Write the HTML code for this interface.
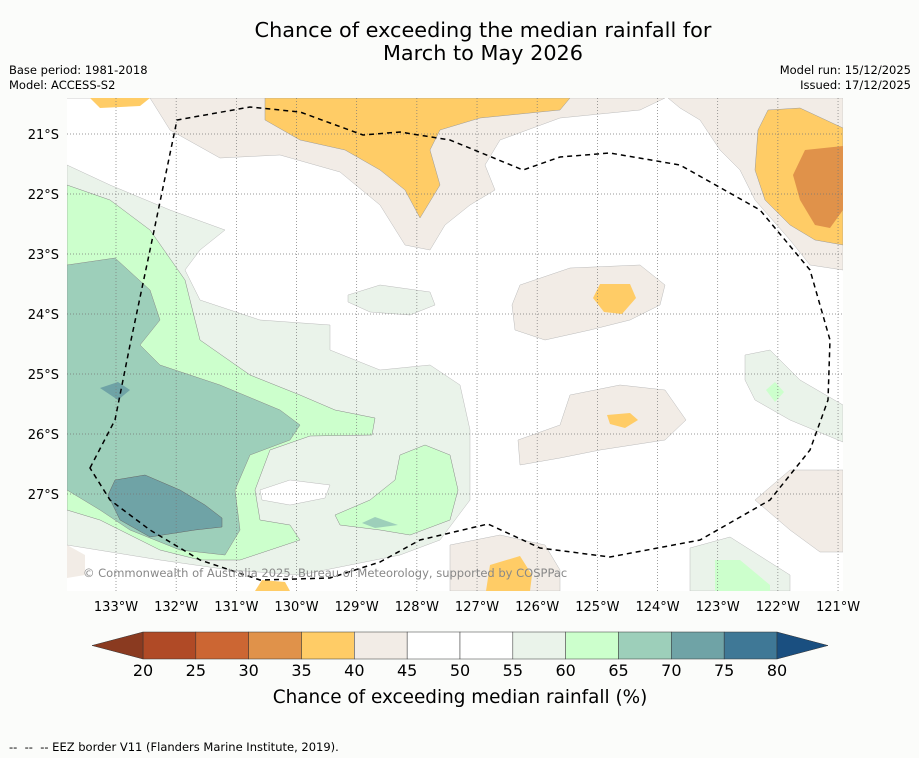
<!DOCTYPE html>
<html><head><meta charset="utf-8"><style>
body{margin:0;background:#fbfcfa;font-family:"DejaVu Sans","Liberation Sans",sans-serif;}
#w{position:relative;width:919px;height:758px;overflow:hidden}
.t{position:absolute;font-size:11.5px;color:#000}
</style></head><body>
<div id="w">
<div class="t" style="left:0;width:966px;top:19px;text-align:center;font-size:20.8px;line-height:23px">Chance of exceeding the median rainfall for<br>March to May 2026</div>
<div class="t" style="left:9px;top:63px">Base period: 1981-2018</div>
<div class="t" style="left:9px;top:78px">Model: ACCESS-S2</div>
<div class="t" style="right:8px;top:63px;text-align:right">Model run: 15/12/2025</div>
<div class="t" style="right:8px;top:78px;text-align:right">Issued: 17/12/2025</div>
<div class="t" style="left:9px;top:740px">-- &nbsp;-- &nbsp;-- EEZ border V11 (Flanders Marine Institute, 2019).</div>
<svg id="s" width="919" height="758" style="position:absolute;left:0;top:0">
<defs><clipPath id="c"><rect x="67" y="98" width="776" height="493"/></clipPath></defs>
<g clip-path="url(#c)">
<rect x="67" y="98" width="776" height="493" fill="#fff"/>
<path fill="#f2ece6" stroke="#bbb" stroke-width="0.5" d="M67,98 L665,98 L640,110 L560,118 L500,140 L485,165 L495,190 L470,205 L445,225 L430,250 L405,245 L380,205 L340,172 L280,155 L220,158 L170,130 L150,98 Z"/>
<path fill="#ffcc66" stroke="#999" stroke-width="0.5" d="M265,98 L570,98 L560,110 L480,118 L440,130 L430,150 L440,185 L420,218 L405,190 L380,170 L345,150 L300,140 L265,120 Z"/>
<path fill="#ffcc66" d="M90,98 L150,98 L140,106 L100,108 Z"/>
<path fill="#f2ece6" stroke="#bbb" stroke-width="0.5" d="M668,98 L843,98 L843,270 L810,265 L790,240 L755,200 L740,170 L720,150 L700,120 L680,108 Z"/>
<path fill="#ffcc66" stroke="#999" stroke-width="0.5" d="M768,110 L800,108 L843,128 L843,245 L815,240 L790,225 L765,200 L755,170 L758,130 Z"/>
<path fill="#e0924a" d="M805,150 L843,146 L843,210 L830,228 L815,225 L800,200 L793,175 Z"/>
<path fill="#f2ece6" stroke="#bbb" stroke-width="0.5" d="M520,285 L570,268 L640,265 L665,285 L660,305 L630,320 L590,330 L545,340 L515,330 L512,305 Z"/>
<path fill="#ffcc66" d="M600,284 L630,284 L636,298 L622,314 L604,312 L593,298 Z"/>
<path fill="#f2ece6" stroke="#bbb" stroke-width="0.5" d="M570,395 L620,385 L665,390 L686,420 L665,440 L600,450 L560,458 L520,465 L518,440 L560,425 Z"/>
<path fill="#ffcc66" d="M607,415 L630,413 L638,420 L625,428 L610,424 Z"/>
<path fill="#f2ece6" stroke="#bbb" stroke-width="0.5" d="M755,500 L790,470 L843,470 L843,552 L820,552 L790,530 Z"/>
<path fill="#f2ece6" stroke="#bbb" stroke-width="0.5" d="M450,545 L500,535 L545,545 L560,570 L560,591 L450,591 Z"/>
<path fill="#ffcc66" d="M490,565 L520,556 L532,575 L530,591 L486,591 Z"/>
<path fill="#ffcc66" d="M255,591 L262,580 L285,582 L290,591 Z"/>
<path fill="#f2ece6" d="M67,545 L85,555 L85,575 L67,578 Z"/>
<path fill="#eaf3ea" stroke="#bbb" stroke-width="0.5" d="M690,548 L730,537 L790,575 L790,591 L690,591 Z"/>
<path fill="#ccffcc" d="M715,560 L740,560 L770,585 L770,591 L715,591 Z"/>
<path fill="#eaf3ea" stroke="#bbb" stroke-width="0.5" d="M745,355 L770,350 L800,380 L843,405 L843,442 L790,420 L755,400 L745,380 Z"/>
<path fill="#ccffcc" d="M766,390 L775,382 L784,392 L775,402 Z"/>
<path fill="#eaf3ea" stroke="#bbb" stroke-width="0.5" d="M67,165 L110,185 L170,210 L225,230 L200,250 L185,270 L200,300 L260,320 L330,325 L330,350 L380,370 L430,365 L460,385 L470,430 L470,500 L440,540 L400,555 L300,575 L230,570 L160,560 L67,545 Z"/>
<path fill="#ccffcc" stroke="#888" stroke-width="0.5" d="M400,455 L425,445 L450,455 L458,490 L450,520 L410,535 L380,530 L340,525 L335,515 L370,500 L395,480 Z"/>
<path fill="#9dcfba" d="M362,523 L375,517 L398,525 L375,528 Z"/>
<path fill="#ccffcc" stroke="#888" stroke-width="0.5" d="M67,185 L110,200 L150,230 L185,280 L200,340 L250,375 L300,395 L335,410 L375,418 L372,435 L310,436 L270,450 L255,490 L260,520 L290,525 L300,540 L240,560 L200,560 L160,550 L100,520 L67,510 Z"/>
<path fill="#9dcfba" stroke="#888" stroke-width="0.5" d="M67,265 L115,258 L150,290 L160,320 L140,345 L160,365 L220,385 L280,410 L300,425 L290,440 L250,455 L235,490 L240,530 L225,555 L180,550 L130,530 L100,510 L67,490 Z"/>
<path fill="#6fa3a6" stroke="#666" stroke-width="0.5" d="M115,480 L145,475 L180,490 L205,505 L222,518 L222,527 L195,530 L150,537 L120,520 L108,495 Z"/>
<path fill="#6fa3a6" d="M100,388 L118,382 L130,390 L118,400 Z"/>
<path fill="#fff" stroke="#bbb" stroke-width="0.5" d="M260,490 L290,480 L330,485 L325,498 L290,505 L262,500 Z"/>
<path fill="#eaf3ea" stroke="#bbb" stroke-width="0.5" d="M348,295 L380,285 L430,292 L435,305 L410,315 L370,312 L348,302 Z"/>
</g>
<g id="grid"></g>
<path fill="none" stroke="#000" stroke-width="1.5" stroke-dasharray="5,4" d="M90,468 L115,420 L130,345 L150,250 L177,120 L250,107 L300,112 L363,135 L400,132 L450,140 L523,170 L560,157 L610,153 L680,165 L760,210 L810,270 L830,340 L828,400 L810,450 L770,500 L700,540 L610,557 L540,548 L488,524 L420,540 L380,562 L330,578 L260,580 L200,560 L150,530 L110,500 Z"/>
<text x="83" y="577" font-size="11.5" fill="#888" font-family="DejaVu Sans, sans-serif">© Commonwealth of Australia 2025, Bureau of Meteorology, supported by COSPPac</text>
<g id="axes"></g>
<g id="cbar"></g>
<text x="460" y="703" text-anchor="middle" font-size="18.4" font-family="DejaVu Sans, sans-serif">Chance of exceeding median rainfall (%)</text>
</svg>
</div>
<script>
const lonTicks=[133,132,131,130,129,128,127,126,125,124,123,122,121];
const latTicks=[21,22,23,24,25,26,27];
const cbTicks=[20,25,30,35,40,45,50,55,60,65,70,75,80];
const cbColors=["#b04a26","#cc6633","#e0924a","#ffcc66","#f2ece6","#ffffff","#ffffff","#eaf3ea","#ccffcc","#9dcfba","#6fa3a6","#3f7896"];
const NS="http://www.w3.org/2000/svg";
const FF='DejaVu Sans, sans-serif';
const xLon=l=>116+(133-l)*60.17;
const yLat=l=>134+(l-21)*60;
const xCb=v=>143+(v-20)*(634/60);
function mk(t,a,p){const e=document.createElementNS(NS,t);for(const k in a)e.setAttribute(k,a[k]);p.appendChild(e);return e;}
const g=document.getElementById('grid'),ax=document.getElementById('axes'),cb=document.getElementById('cbar');
lonTicks.forEach(l=>{const x=xLon(l);
 const ln=mk('line',{x1:x,x2:x,y1:98,y2:591,stroke:'#777','stroke-width':0.7,'stroke-dasharray':'1,2'},g);
 
 
 const t=mk('text',{x:x,y:611,'text-anchor':'middle','font-size':13,'font-family':FF},ax);t.textContent=l+'°W';
 
 });
latTicks.forEach(l=>{const y=yLat(l);
 const ln=mk('line',{x1:67,x2:843,y1:y,y2:y,stroke:'#777','stroke-width':0.7,'stroke-dasharray':'1,2'},g);
 
 
 const t=mk('text',{x:59,y:y+5,'text-anchor':'end','font-size':13,'font-family':FF},ax);t.textContent=l+'°S';
 
 });
cbColors.forEach((c,i)=>{const x0=xCb(cbTicks[i]),x1=xCb(cbTicks[i+1]);
 const r=mk('rect',{x:x0,y:632,width:x1-x0,height:27,fill:c,stroke:'#333','stroke-width':0.5},cb);
 
 });
const lt=mk('polygon',{points:`92,645.5 143,632 143,659`,fill:'#8a3a20',stroke:'#333','stroke-width':0.5},cb);


const rt=mk('polygon',{points:`777,632 828,645.5 777,659`,fill:'#1a4f80',stroke:'#333','stroke-width':0.5},cb);


cbTicks.forEach(v=>{const t=mk('text',{x:xCb(v),y:676,'text-anchor':'middle','font-size':16,'font-family':FF},cb);t.textContent=v;
 
 });
</script>
</body></html>
